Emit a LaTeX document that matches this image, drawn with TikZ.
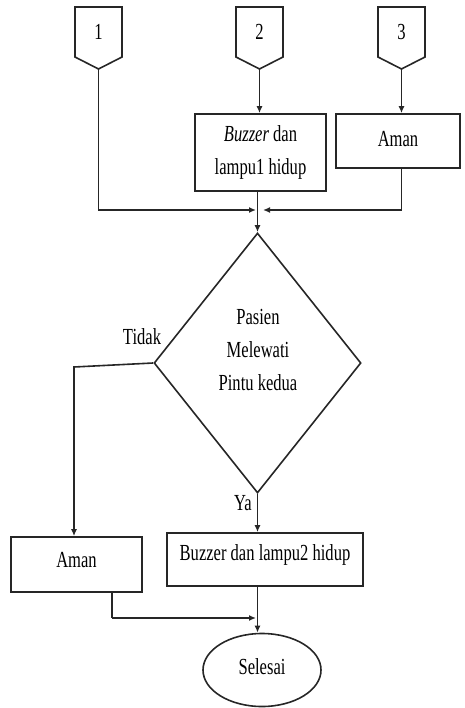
\documentclass[tikz,border=0pt]{standalone}
\usepackage{fontspec}
\setmainfont{Liberation Serif}[FakeStretch=0.72]
\usetikzlibrary{shapes.geometric,arrows.meta}
\tikzset{
  base/.style={draw=black!85, line width=1.6pt},
  txt/.style={font=\fontsize{23}{33}\selectfont, align=center, inner sep=0pt},
  boxnode/.style={base, rectangle, inner sep=0pt},
  link/.style={black!85, line width=1.6pt},
  arr/.style={link, -{Latex[length=7pt,width=6pt]}},
  offpage/.style={base, line join=miter}
}
\begin{document}
\begin{tikzpicture}[x=1pt,y=-1pt]
\useasboundingbox (0,0) rectangle (464,708);
% off-page connectors
\draw[offpage] (75,7) -- (122,7) -- (122,57) -- (98.5,69) -- (75,57) -- cycle;
\draw[offpage] (236,7) -- (283,7) -- (283,57) -- (259.5,69) -- (236,57) -- cycle;
\draw[offpage] (378,7) -- (425,7) -- (425,57) -- (401.5,69) -- (378,57) -- cycle;
\node[txt] (n1) at (98.5,32) {1};
\node[txt] (n2) at (259.5,32) {2};
\node[txt] (n3) at (401.5,32) {3};
\coordinate (t1) at (98.5,69);
\coordinate (t2) at (259.5,69);
\coordinate (t3) at (401.5,69);
% top boxes
\node[boxnode, minimum width=131, minimum height=77] (b1) at (260.5,152.5) {};
\node[txt] (b1t) at (260.5,152.5) {\textit{Buzzer} dan\\lampu1 hidup};
\node[boxnode, minimum width=124, minimum height=54] (a1) at (398,141) {};
\node[txt] (a1t) at (398,139) {Aman};
% decision
\node[base, diamond, minimum width=207, minimum height=260, inner sep=0pt] (d) at (257.5,363) {};
\node[txt] (dt) at (258,350) {Pasien\\Melewati\\Pintu kedua};
% bottom boxes
\node[boxnode, minimum width=131, minimum height=55] (a2) at (76.5,564.5) {};
\node[txt] (a2t) at (76.5,560) {Aman};
\node[boxnode, minimum width=196, minimum height=53] (b2) at (265,559.5) {};
\node[txt] (b2t) at (265,555) {Buzzer dan lampu2 hidup};
% end
\node[base, ellipse, minimum width=118, minimum height=73, inner sep=0pt] (e) at (262,670) {};
\node[txt] (et) at (262,667) {Selesai};
% labels
\node[txt] (tidak) at (142,337) {Tidak};
\node[txt] (ya) at (243,503) {Ya};
% junction coordinates
\coordinate (j1) at (98.5,210);
\coordinate (jl) at (256,210);
\coordinate (j3) at (401.5,210);
\coordinate (jr) at (263,210);
\coordinate (dl) at (74,367);
\coordinate (a2b) at (112,592);
\coordinate (k1) at (112,618);
\coordinate (k2) at (256,618);
% connectors
\draw[arr] (t1) -- (j1) -- (jl);
\draw[arr] (t2) -- (t2 |- b1.north);
\draw[arr] (t3) -- (t3 |- a1.north);
\draw[link] (j3 |- a1.south) -- (j3);
\draw[arr] (j3) -- (jr);
\draw[arr] (b1.south -| d.north) -- (d.north);
\draw[arr] (d.west) -- (dl) -- (dl |- a2.north);
\draw[arr] (d.south) -- (d.south |- b2.north);
\draw[link] (a2b) -- (k1);
\draw[arr] (k1) -- (k2);
\draw[arr] (b2.south -| d.south) -- (d.south |- e.north);
\end{tikzpicture}
\end{document}
